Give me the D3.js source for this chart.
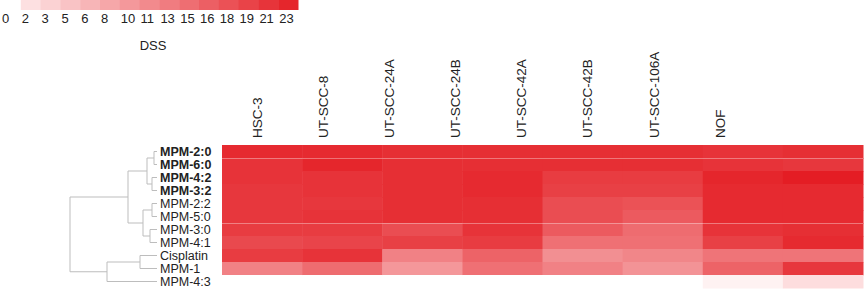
<!DOCTYPE html>
<html>
<head>
<meta charset="utf-8">
<script src="https://cdn.jsdelivr.net/npm/d3@7"></script>
<style>
  body { margin: 0; background: #fff; }
  text { font-family: "Liberation Sans", Arial, sans-serif; }
</style>
</head>
<body>
<div id="chart"></div>
<script>
const WIDTH = 865;
const HEIGHT = 290;
const HEAT = { LEFT: 222, RIGHT: 863, TOP: 145, BOTTOM: 288 };

// columns and rows
const cellLines = ["HSC-3", "UT-SCC-8", "UT-SCC-24A", "UT-SCC-24B", "UT-SCC-42A", "UT-SCC-42B", "UT-SCC-106A", "NOF"];
const compounds = ["MPM-2:0", "MPM-6:0", "MPM-4:2", "MPM-3:2", "MPM-2:2", "MPM-5:0", "MPM-3:0", "MPM-4:1", "Cisplatin", "MPM-1", "MPM-4:3"];
const boldCompounds = ["MPM-2:0", "MPM-6:0", "MPM-4:2", "MPM-3:2"];

// DSS per compound (rows) x cell line (columns)
const dss = [
  [22.5, 22.5, 22, 22, 22, 22, 21.5, 22],
  [21.5, 23, 22, 22, 22, 22, 21.5, 21],
  [21.5, 21.5, 22, 22.5, 20.5, 20.5, 23, 24],
  [21, 21.5, 22, 22.5, 20, 20, 22.5, 22.5],
  [21, 21, 22, 22, 18.5, 18, 22.5, 22.5],
  [21, 21.5, 22, 22, 18.5, 17, 22.5, 22.5],
  [20.5, 20.5, 18.5, 21.5, 17, 15, 21.5, 22],
  [19, 19.5, 20, 20.5, 14.5, 14.5, 20, 22.5],
  [20.5, 21.5, 12.5, 16, 11, 12, 14, 14],
  [12.5, 15, 10, 14.5, 12.5, 10.5, 16, 21],
  [0, 0, 0, 0, 0, 0, 0.7, 2]
];

// legend
const legendTicks = [0, 2, 3, 5, 6, 8, 10, 11, 13, 15, 16, 18, 19, 21, 23];
const DSS_MAX = 23;

// dendrogram merges: [child a, child b, height]; leaves are row indexes, new nodes numbered from 11
const merges = [
  [0, 1, 0.3],
  [2, 3, 0.5],
  [11, 12, 1.0],
  [4, 5, 0.5],
  [6, 7, 0.7],
  [14, 15, 1.4],
  [13, 16, 2.9],
  [8, 9, 1.7],
  [18, 10, 5.0],
  [17, 19, 8.7]
];

const svg = d3.select("#chart")
  .append("svg")
  .attr("width", WIDTH)
  .attr("height", HEIGHT);

const color = d3.scaleLinear()
  .domain([0, DSS_MAX / 14, DSS_MAX])
  .range(["#ffffff", "#fde0e1", "#e5262c"])
  .clamp(false);

const x = d3.scaleBand()
  .domain(cellLines)
  .range([HEAT.LEFT, HEAT.RIGHT]);

const y = d3.scaleBand()
  .domain(compounds)
  .range([HEAT.TOP, HEAT.BOTTOM]);

// heatmap cells
svg.append("g")
  .selectAll("g")
  .data(dss)
  .join("g")
  .each(function (row, i) {
    d3.select(this).selectAll("rect")
      .data(row)
      .join("rect")
      .attr("x", (d, j) => x(cellLines[j]))
      .attr("y", y(compounds[i]))
      .attr("width", x.bandwidth() + 0.5)
      .attr("height", y.bandwidth() + 0.5)
      .attr("fill", d => color(d));
  });

// faint separators
[compounds[1], compounds[6]].forEach(c => {
  svg.append("line")
    .attr("x1", HEAT.LEFT)
    .attr("x2", HEAT.RIGHT)
    .attr("y1", y(c) + 0.5)
    .attr("y2", y(c) + 0.5)
    .attr("stroke", "#ffffff")
    .attr("stroke-opacity", 0.35);
});

// column labels (they drift from the columns in the original)
const xLabel = d3.scaleBand()
  .domain(cellLines)
  .range([224, 753]);

svg.append("g")
  .selectAll("text")
  .data(cellLines)
  .join("text")
  .attr("transform", d => `translate(${xLabel(d) + xLabel.bandwidth() / 2}, 138) rotate(-90)`)
  .attr("dy", "0.35em")
  .attr("text-anchor", "start")
  .style("font-size", "13.5px")
  .attr("fill", "#222")
  .text(d => d);

// row labels
svg.append("g")
  .selectAll("text")
  .data(compounds)
  .join("text")
  .attr("x", 160)
  .attr("y", d => y(d) + y.bandwidth() / 2)
  .attr("dy", "0.36em")
  .style("font-size", "12.5px")
  .style("font-weight", d => boldCompounds.includes(d) ? "bold" : "normal")
  .attr("fill", "#222")
  .text(d => d);

// dendrogram
const xD = d3.scaleLinear()
  .domain([0, 8.7])
  .range([157, 70]);

const nodes = compounds.map(c => ({ y: y(c) + y.bandwidth() / 2, h: 0 }));
merges.forEach(([a, b, h]) => {
  nodes.push({ y: (nodes[a].y + nodes[b].y) / 2, h: h, a: a, b: b });
});

const dendro = svg.append("g")
  .attr("fill", "none")
  .attr("stroke", "#bdbdbd")
  .attr("stroke-width", 1);

nodes.filter(n => n.a !== undefined).forEach(n => {
  const A = nodes[n.a];
  const B = nodes[n.b];
  dendro.append("path")
    .attr("d", `M${xD(A.h)},${A.y}H${xD(n.h)}V${B.y}H${xD(B.h)}`);
});

// legend
const legendX = d3.scaleBand()
  .domain(legendTicks.map((d, i) => i))
  .range([1, 298]);

const legend = svg.append("g");

legend.selectAll("rect")
  .data(legendTicks)
  .join("rect")
  .attr("x", (d, i) => legendX(i))
  .attr("y", 0)
  .attr("width", legendX.bandwidth() + 0.5)
  .attr("height", 10)
  .attr("fill", (d, i) => color(i * DSS_MAX / 14));

legend.selectAll("text")
  .data(legendTicks)
  .join("text")
  .attr("x", (d, i) => legendX(i) + 1)
  .attr("y", 23)
  .style("font-size", "13px")
  .attr("fill", "#222")
  .text(d => d);

legend.append("text")
  .attr("x", 153)
  .attr("y", 50)
  .attr("text-anchor", "middle")
  .style("font-size", "13px")
  .attr("fill", "#222")
  .text("DSS");
</script>
</body>
</html>
